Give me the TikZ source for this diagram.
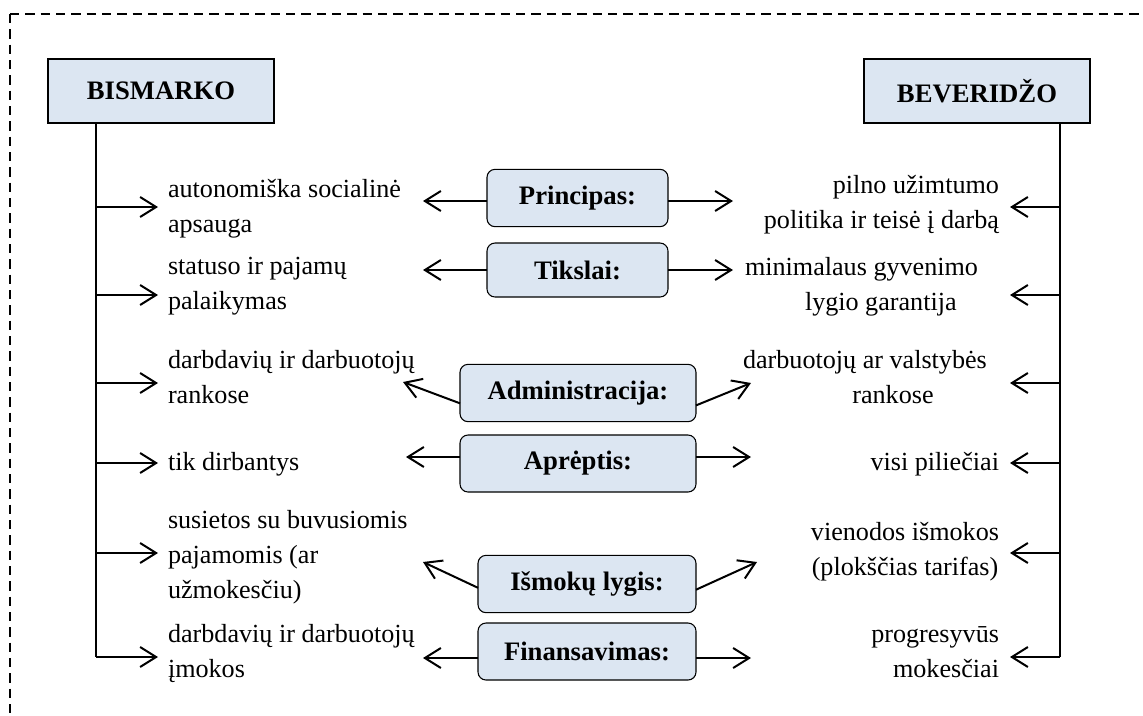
\documentclass[tikz,border=0pt]{standalone}
\usepackage{fontspec}
\setmainfont{Liberation Serif}
\usetikzlibrary{arrows.meta}
\definecolor{boxblue}{RGB}{220,230,242}

\begin{document}
\begin{tikzpicture}[x=0.75pt,y=-0.75pt,
  every node/.style={inner sep=0pt, outer sep=0pt},
  bodytext/.style={font=\fontsize{19.6}{26.25}\selectfont},
  headbox/.style={draw, fill=boxblue, line width=0.8pt,
    minimum width=169.5pt, minimum height=48pt,
    font=\fontsize{20}{24}\selectfont\bfseries},
  critbox/.style={draw, fill=boxblue, line width=0.8pt, rounded corners=6pt,
    minimum height=43pt, font=\fontsize{20}{24}\selectfont\bfseries},
  trunk/.style={line width=1.5pt},
  branch/.style={line width=1.5pt, -{Straight Barb[length=12pt,width=15pt,line width=1.5pt]}},
  frame/.style={line width=1.5pt, dash pattern=on 7pt off 4.5pt}
]
\useasboundingbox (0,0) rectangle (1143,715);

% dashed outer frame (runs past the page on the right and bottom)
\draw[frame] (10,14) -- (10,720);
\draw[frame] (10,14) -- (1150,14);

% column heads
\node[headbox] (bis) at (161,91) {BISMARKO};
\node[headbox] (bev) at (977,91) {BEVERIDŽO};

% trunks
\coordinate (lt) at (96,657);
\coordinate (rt) at (1060,657);
\draw[trunk] (bis.south -| lt) -- (lt);
\draw[trunk] (bev.south -| rt) -- (rt);

% branch tips
\foreach \i/\y in {1/207,2/295,3/383,4/463,5/553,6/657}{
  \coordinate (lb\i) at (158,\y);
  \coordinate (rb\i) at (1010,\y);
  \draw[branch] (lt |- lb\i) -- (lb\i);
  \draw[branch] (rt |- rb\i) -- (rb\i);
}

% Bismarck model texts (anchored on the baseline of the last line)
\node[bodytext, anchor=base west, align=left] (l1) at (168,232) {autonomiška socialinė\\apsauga};
\node[bodytext, anchor=base west, align=left] (l2) at (168,309) {statuso ir pajamų\\palaikymas};
\node[bodytext, anchor=base west, align=left] (l3) at (168,403) {darbdavių ir darbuotojų\\rankose};
\node[bodytext, anchor=base west, align=left] (l4) at (168,470) {tik dirbantys};
\node[bodytext, anchor=base west, align=left] (l5) at (168,598) {susietos su buvusiomis\\pajamomis (ar\\užmokesčiu)};
\node[bodytext, anchor=base west, align=left] (l6) at (168,677) {darbdavių ir darbuotojų\\įmokos};

% Beveridge model texts
\node[bodytext, anchor=base east, align=right] (r1) at (999,228) {pilno užimtumo\\politika ir teisė į darbą};
\node[bodytext, anchor=base west, align=left] (r2) at (745,310) {minimalaus gyvenimo\\\hspace*{45pt}lygio garantija};
\node[bodytext, anchor=base west, align=left] (r3) at (743,403) {darbuotojų ar valstybės\\\hspace*{82pt}rankose};
\node[bodytext, anchor=base east, align=right] (r4) at (999,470) {visi piliečiai};
\node[bodytext, anchor=base, align=center] (r5) at (905,575) {vienodos išmokos\\(plokščias tarifas)};
\node[bodytext, anchor=base east, align=right] (r6) at (999,677) {progresyvūs\\mokesčiai};

% comparison criteria
\node[critbox, minimum width=135.75pt] (pr) at (577.5,198) {Principas:};
\node[critbox, minimum width=135.75pt, minimum height=40.5pt] (ti) at (577.5,270) {Tikslai:};
\node[critbox, minimum width=177pt] (ad) at (578,393) {Administracija:};
\node[critbox, minimum width=177pt, minimum height=42.75pt] (ap) at (578,463.5) {Aprėptis:};
\node[critbox, minimum width=163.5pt] (is) at (587,584) {Išmokų lygis:};
\node[critbox, minimum width=163.5pt, minimum height=42.75pt] (fi) at (587,651.5) {Finansavimas:};

% criterion arrows
\coordinate (prL) at (423,201);  \coordinate (prR) at (733,201);
\coordinate (tiL) at (423,270);  \coordinate (tiR) at (733,270);
\coordinate (adL) at (403,382);  \coordinate (adR) at (751,383);
\coordinate (apL) at (406,457);  \coordinate (apR) at (751,457);
\coordinate (isL) at (423,562);  \coordinate (isR) at (757,562);
\coordinate (fiL) at (423,658);  \coordinate (fiR) at (751,658);

\draw[branch] (pr.west |- prL) -- (prL);
\draw[branch] (pr.east |- prR) -- (prR);
\draw[branch] (ti.west |- tiL) -- (tiL);
\draw[branch] (ti.east |- tiR) -- (tiR);
\draw[branch] (ad.185) -- (adL);
\draw[branch] (ad.354) -- (adR);
\draw[branch] (ap.west |- apL) -- (apL);
\draw[branch] (ap.east |- apR) -- (apR);
\draw[branch] (is.182) -- (isL);
\draw[branch] (is.357) -- (isR);
\draw[branch] (fi.west |- fiL) -- (fiL);
\draw[branch] (fi.east |- fiR) -- (fiR);
\end{tikzpicture}
\end{document}
